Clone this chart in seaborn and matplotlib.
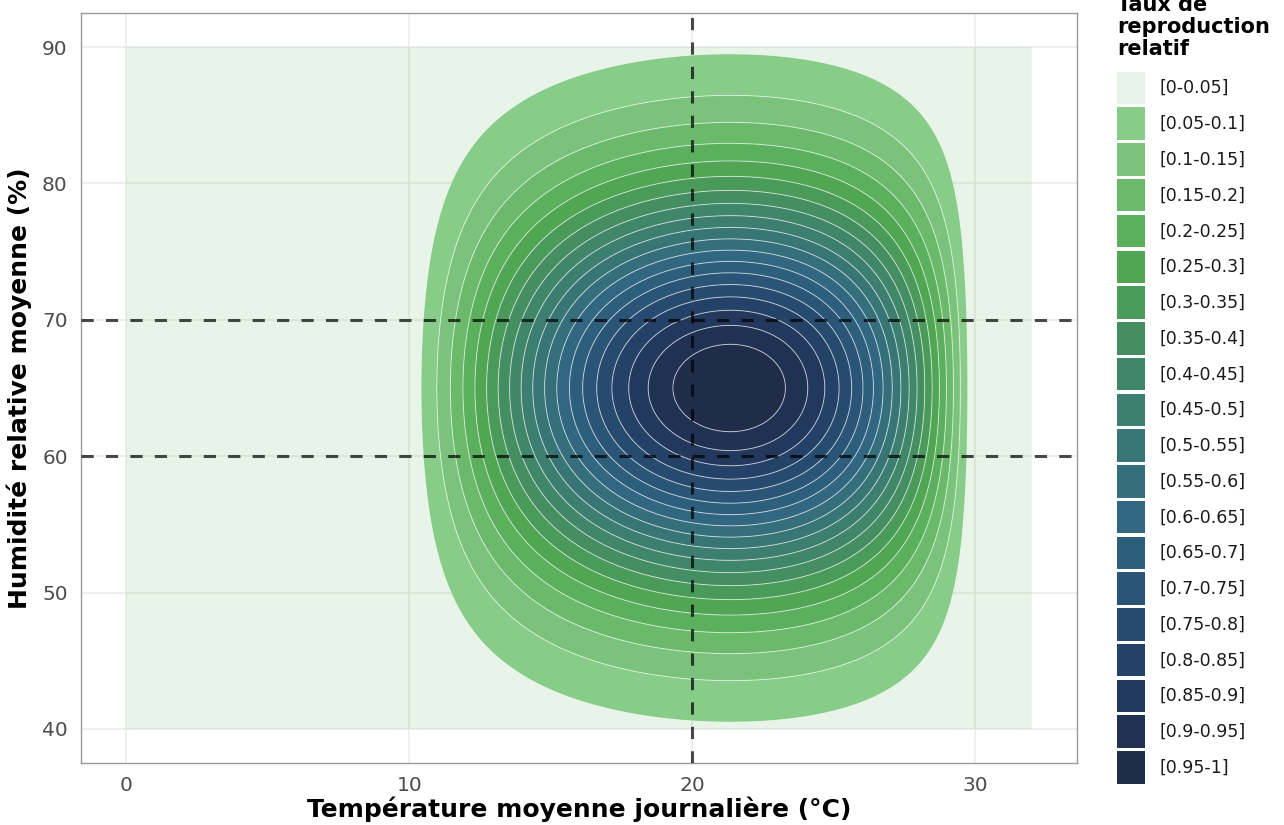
import numpy as np
import matplotlib
matplotlib.use("Agg")
import matplotlib.pyplot as plt
from matplotlib.patches import Patch
import seaborn as sns

# ---- Response model parameters ------------------------------------------
# Temperature response: asymmetric beta curve between two thresholds
T_MIN, T_MAX = 9.55, 30.0
T_SHAPE_LOW, T_SHAPE_HIGH = 1.5, 1.1
# Humidity response: gaussian around an optimum
H_OPT, H_SD = 65.0, 10.0

# Domain of the surface
temp_range = [0, 32]
hum_range = [40, 90]

# Class breaks and their legend labels
breaks = [0, 0.05, 0.1, 0.15, 0.2, 0.25, 0.3, 0.35, 0.4, 0.45, 0.5,
          0.55, 0.6, 0.65, 0.7, 0.75, 0.8, 0.85, 0.9, 0.95, 1]
class_labels = [f"[{lo:g}-{hi:g}]" for lo, hi in zip(breaks[:-1], breaks[1:])]

# Reference thresholds
ref_temps = [20]
ref_hums = [60, 70]

x_ticks = [0, 10, 20, 30]
y_ticks = [40, 50, 60, 70, 80, 90]

# Fill colours for each class, lightest first
band_colors = [
    "#88cc8833", "#88cc8a", "#7bc37c", "#6bba6c", "#5bb05d", "#50a653",
    "#4a9a59", "#448e62", "#408668", "#3c7e6f", "#387675", "#356f7c",
    "#316781", "#2d5e7c", "#2a5576", "#274b6f", "#244267", "#22395d",
    "#203253", "#1f2c4a",
]


def temp_response(t):
    t_opt = T_MIN + T_SHAPE_LOW / (T_SHAPE_LOW + T_SHAPE_HIGH) * (T_MAX - T_MIN)
    inside = (t > T_MIN) & (t < T_MAX)
    tc = np.clip(t, T_MIN, T_MAX)
    r = ((tc - T_MIN) / (t_opt - T_MIN)) ** T_SHAPE_LOW * \
        ((T_MAX - tc) / (T_MAX - t_opt)) ** T_SHAPE_HIGH
    return np.where(inside, r, 0.0)


def hum_response(h):
    return np.exp(-0.5 * ((h - H_OPT) / H_SD) ** 2)


temps = np.linspace(temp_range[0], temp_range[1], 641)
hums = np.linspace(hum_range[0], hum_range[1], 501)
TT, HH = np.meshgrid(temps, hums)
rate = np.clip(temp_response(TT) * hum_response(HH), 0, 1)

# ---- Styling --------------------------------------------------------------
sns.set_theme(style="white")
plt.rcParams["font.family"] = ["DejaVu Sans"]

fig = plt.figure(figsize=(12.84, 8.25), dpi=100)
ax = fig.add_axes([81 / 1284, 1 - 763 / 825, 996 / 1284, 750 / 825])

ax.grid(True, color="#ebebeb", linewidth=1.2)
ax.set_axisbelow(True)

ax.contourf(TT, HH, rate, levels=breaks, colors=band_colors,
            antialiased=True, zorder=2)
ax.contour(TT, HH, rate, levels=breaks[2:-1], colors="white",
           linewidths=0.7, alpha=0.6, zorder=3)

for t in ref_temps:
    ax.axvline(t, color="black", alpha=0.7, linewidth=2.2,
               linestyle=(0, (4, 4)), zorder=4)
for h in ref_hums:
    ax.axhline(h, color="black", alpha=0.7, linewidth=2.2,
               linestyle=(0, (4, 4)), zorder=4)

ax.set_xlim(-1.6, 33.6)
ax.set_ylim(37.5, 92.5)
ax.set_xticks(x_ticks)
ax.set_yticks(y_ticks)
ax.tick_params(length=0, pad=9.5, labelsize=14.5, labelcolor="#4d4d4d")
for sp in ax.spines.values():
    sp.set_visible(True)
    sp.set_color("#9a9a9a")
    sp.set_linewidth(1.0)

ax.set_xlabel("Température moyenne journalière (°C)", fontsize=18,
              fontweight="bold", color="black", labelpad=1)
ax.set_ylabel("Humidité relative moyenne (%)", fontsize=18,
              fontweight="bold", color="black", labelpad=7)

# Legend: title set as its own text block, keys listed below it
fig.text(1117 / 1284, 1 - 55 / 825, "Taux de\nreproduction\nrelatif",
         ha="left", va="baseline", fontsize=15, fontweight="bold",
         color="black", linespacing=1.12)
handles = [Patch(facecolor=c, edgecolor="none") for c in band_colors]
fig.legend(handles, class_labels,
           loc="upper left", bbox_to_anchor=(1117 / 1284, 1 - 71.7 / 825),
           frameon=False, fontsize=12.5, labelcolor="#1a1a1a",
           handlelength=1.6, handleheight=2.5, labelspacing=0.19,
           handletextpad=0.85, borderpad=0, borderaxespad=0)

fig.savefig("out.png", dpi=100)
